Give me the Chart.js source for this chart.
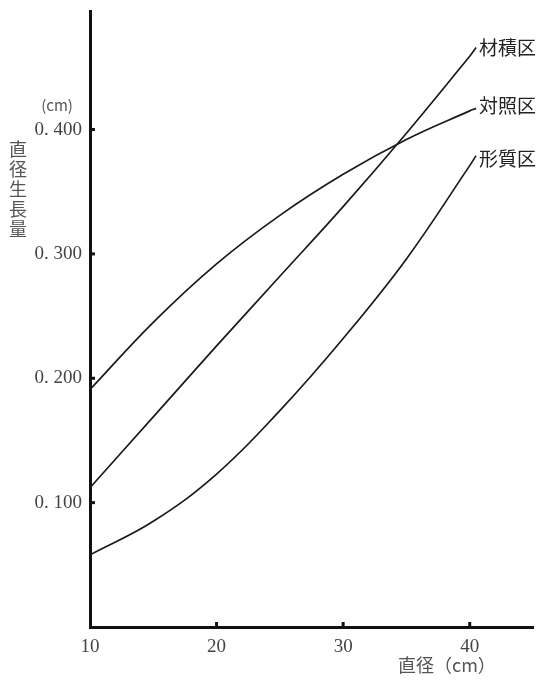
<!DOCTYPE html>
<html><head><meta charset="utf-8">
<script src="https://cdn.jsdelivr.net/npm/chart.js@4/dist/chart.umd.min.js"></script>
<style>html,body{margin:0;padding:0;background:#fff}#wrap{width:541px;height:682px}</style>
</head><body><div id="wrap"><canvas id="c" width="541" height="682"></canvas></div>
<script>
const diameters = [10, 15, 20, 25, 30, 35, 40, 40.5];
const zaiseki  = [0.112, 0.169, 0.226, 0.282, 0.338, 0.397, 0.459, 0.466];
const taisho   = [0.191, 0.245, 0.292, 0.331, 0.364, 0.392, 0.415, 0.417];
const keishitsu= [0.058, 0.085, 0.123, 0.174, 0.232, 0.296, 0.371, 0.379];
const seriesNames = ['材積区', '対照区', '形質区'];
const xTicks = [10, 20, 30, 40];
const yTicks = [0.1, 0.2, 0.3, 0.4];
const yTickLabels = ['0. 100', '0. 200', '0. 300', '0. 400'];
const yTitleChars = ['直', '径', '生', '長', '量'];
const yUnit = '(cm)';
const xTitle = '直径（cm）';

function pts(ys){ return diameters.map((x,i)=>({x, y: ys[i]})); }
const lineStyle = {borderColor:'#1a1a1a', borderWidth:1.7, pointRadius:0, fill:false, tension:0.4};

const deco = {
  id:'deco',
  afterDraw(chart){
    const ctx = chart.ctx, xs = chart.scales.x, ys = chart.scales.y;
    ctx.save();
    ctx.strokeStyle = '#111'; ctx.lineWidth = 3;
    yTicks.forEach(v=>{ const py = ys.getPixelForValue(v); ctx.beginPath(); ctx.moveTo(xs.left, py); ctx.lineTo(xs.left+5, py); ctx.stroke(); });
    xTicks.slice(1).forEach(v=>{ const px = xs.getPixelForValue(v); ctx.beginPath(); ctx.moveTo(px, ys.bottom); ctx.lineTo(px, ys.bottom-5); ctx.stroke(); });
    ctx.fillStyle = '#222';
    ctx.font = '19px "Noto Sans CJK JP"';
    ctx.textBaseline = 'middle'; ctx.textAlign = 'left';
    const offs = [0, -3, 3];
    chart.data.datasets.forEach((ds,i)=>{
      const meta = chart.getDatasetMeta(i);
      const last = meta.data[meta.data.length-1];
      ctx.fillText(seriesNames[i], last.x + 3, last.y + offs[i]);
    });
    ctx.fillStyle = '#555';
    ctx.font = '18px "Noto Sans CJK JP"';
    ctx.textAlign = 'center';
    const y0 = ys.getPixelForValue(0.4) + 20;
    yTitleChars.forEach((ch,k)=> ctx.fillText(ch, 18, y0 + k*20));
    ctx.font = '15px "Noto Sans CJK JP"';
    ctx.fillText(yUnit, 57, ys.getPixelForValue(0.4) - 24);
    ctx.font = '18px "Noto Sans CJK JP"';
    ctx.textAlign = 'left';
    ctx.fillText(xTitle, 398, 665);
    ctx.restore();
  }
};

new Chart(document.getElementById('c'), {
  type:'line',
  data:{ datasets:[
    Object.assign({label:seriesNames[0], data:pts(zaiseki)}, lineStyle),
    Object.assign({label:seriesNames[1], data:pts(taisho)}, lineStyle),
    Object.assign({label:seriesNames[2], data:pts(keishitsu)}, lineStyle)
  ]},
  options:{
    responsive:false, animation:false, devicePixelRatio:1,
    layout:{padding:{left:0, top:-2, right:8, bottom:0}},
    plugins:{legend:{display:false}, tooltip:{enabled:false}},
    scales:{
      x:{type:'linear', min:10, max:45,
        afterBuildTicks(s){ s.ticks = xTicks.map(v=>({value:v})); },
        afterFit(s){ s.height = 55; },
        grid:{display:false},
        border:{display:true, color:'#111', width:3},
        ticks:{padding:1, color:'#444', font:{family:'"Liberation Serif"', size:19}, maxRotation:0, callback:v=>String(v)}
      },
      y:{type:'linear', min:0, max:0.495,
        afterBuildTicks(s){ s.ticks = yTicks.map(v=>({value:v})); },
        afterFit(s){ s.width = 90; },
        grid:{display:false},
        border:{display:true, color:'#111', width:3},
        ticks:{padding:0, color:'#444', font:{family:'"Liberation Serif"', size:19}, callback:(v)=>{ const i = yTicks.findIndex(t=>Math.abs(t-v)<1e-9); return i>=0 ? yTickLabels[i] : ''; }}
      }
    }
  },
  plugins:[deco]
});
</script></body></html>
